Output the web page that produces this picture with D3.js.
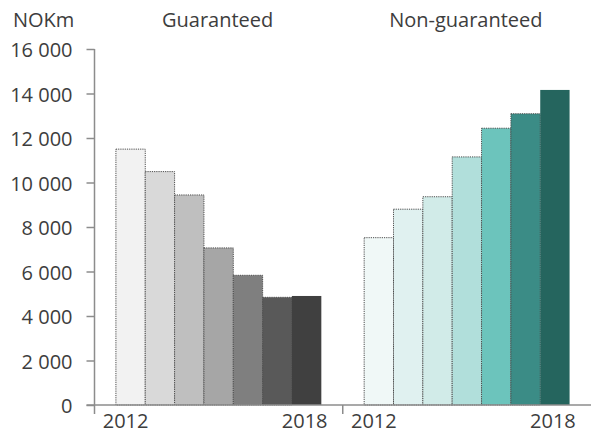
<!DOCTYPE html>
<html>
<head>
<meta charset="utf-8">
<script src="https://cdn.jsdelivr.net/npm/d3@7"></script>
<style>
  html, body { margin: 0; padding: 0; background: #fff; }
  svg text { font-family: "Open Sans", "Segoe UI", sans-serif; fill: #3d3d3d; }
</style>
</head>
<body>
<svg id="chart" width="591" height="434"></svg>
<script>
// Assets by guarantee type, NOK million, 2012–2018
const groups = ["Guaranteed", "Non-guaranteed"];
const years = ["2012", "2013", "2014", "2015", "2016", "2017", "2018"];
const guaranteed = [11500, 10490, 9440, 7060, 5830, 4840, 4900];
const nonGuaranteed = [7520, 8800, 9360, 11150, 12440, 13090, 14160];
const yTicks = [0, 2000, 4000, 6000, 8000, 10000, 12000, 14000, 16000];
const shownYears = ["2012", "2018"];
const unitLabel = "NOKm";

const greyShades = ["#f2f2f2", "#d9d9d9", "#bfbfbf", "#a6a6a6", "#7f7f7f", "#595959", "#404040"];
const tealShades = ["#f0f8f7", "#e0f1f0", "#d1ebe8", "#b1dfdb", "#6cc4bc", "#3b8c86", "#25655e"];

const svg = d3.select("#chart");
const margin = { left: 94.5, right: 0, top: 49, bottom: 29 };
const W = 591, H = 434;
const fontSize = 20;

const y = d3.scaleLinear().domain([0, 16000]).range([H - margin.bottom, margin.top]);
const gx = d3.scaleBand().domain(groups).range([margin.left, W - margin.right]).padding(0);
const bx = d3.scaleBand().domain(years).range([0, gx.bandwidth()]).paddingInner(0).paddingOuter(0.73);

const series = [
  { group: "Guaranteed", values: guaranteed, colors: greyShades },
  { group: "Non-guaranteed", values: nonGuaranteed, colors: tealShades }
];

const axisColor = "#8c8c8c";
const fmt = d3.formatLocale({ decimal: ",", thousands: "\u00a0", grouping: [3], currency: ["", ""] }).format(",d");

// Bars
series.forEach(s => {
  const g = svg.append("g").attr("transform", `translate(${gx(s.group)},0)`);
  g.selectAll("rect")
    .data(s.values.map((v, i) => ({ year: years[i], value: v, color: s.colors[i], last: i === years.length - 1 })))
    .join("rect")
    .attr("x", d => bx(d.year))
    .attr("y", d => y(d.value))
    .attr("width", bx.bandwidth())
    .attr("height", d => y(0) - y(d.value))
    .attr("fill", d => d.color)
    .attr("stroke", d => d.last ? "none" : "#4d4d4d")
    .attr("stroke-width", 1)
    .attr("stroke-dasharray", "1.2,1");

  // Year labels at the ends of each group
  g.selectAll("text.year")
    .data(shownYears)
    .join("text")
    .attr("class", "year")
    .attr("x", d => bx(d) + bx.bandwidth() / 2 - (d === shownYears[0] ? 5 : 2))
    .attr("y", 428)
    .attr("text-anchor", "middle")
    .attr("font-size", fontSize)
    .text(d => d);

  // Group titles
  svg.append("text")
    .attr("x", gx(s.group) + gx.bandwidth() / 2 - 1)
    .attr("y", 27)
    .attr("text-anchor", "middle")
    .attr("font-size", fontSize)
    .text(s.group);
});

// Y axis
const yAxis = svg.append("g")
  .attr("transform", `translate(${margin.left},0)`)
  .call(d3.axisLeft(y).tickValues(yTicks).tickSize(8).tickPadding(14).tickFormat(fmt));
yAxis.select(".domain").attr("stroke", axisColor).attr("stroke-width", 1.5)
  .attr("d", `M0,${y(16000)}V${y(0) + 9}`);
yAxis.selectAll(".tick line").attr("stroke", axisColor).attr("stroke-width", 1.5);
yAxis.selectAll(".tick text").attr("font-size", fontSize).attr("fill", "#3d3d3d")
  .attr("font-family", "'Open Sans', 'Segoe UI', sans-serif").attr("dy", "0.38em");

// X axis: baseline with ticks at group boundaries
const xAxis = svg.append("g");
xAxis.append("line")
  .attr("x1", margin.left - 8).attr("x2", W)
  .attr("y1", y(0)).attr("y2", y(0))
  .attr("stroke", axisColor).attr("stroke-width", 1.5);
xAxis.selectAll("line.sep")
  .data(groups.slice(1))
  .join("line")
  .attr("class", "sep")
  .attr("x1", d => gx(d)).attr("x2", d => gx(d))
  .attr("y1", y(0)).attr("y2", y(0) + 9)
  .attr("stroke", axisColor).attr("stroke-width", 1.5);

// Unit label
svg.append("text")
  .attr("x", 13).attr("y", 27)
  .attr("font-size", fontSize)
  .text(unitLabel);
</script>
</body>
</html>
